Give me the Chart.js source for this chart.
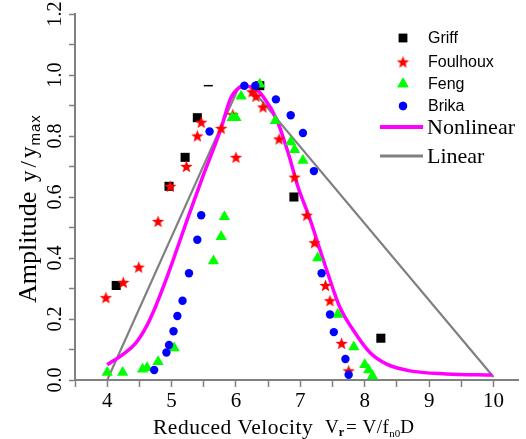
<!DOCTYPE html>
<html>
<head>
<meta charset="utf-8">
<script src="https://cdn.jsdelivr.net/npm/chart.js@4.4.1/dist/chart.umd.min.js"></script>
<style>
  html, body { margin: 0; padding: 0; background: #fff; }
  #wrap { width: 526px; height: 439px; }
</style>
</head>
<body>
<div id="wrap"><canvas id="chart" width="526" height="439"></canvas></div>
<script>
// Experimental points (reduced velocity, normalised amplitude)
const griffX = [4.14, 4.96, 5.21, 5.40, 5.57, 6.37, 6.90, 8.25];
const griffY = [0.31, 0.635, 0.73, 0.86, 0.965, 0.965, 0.60, 0.137];

const foulhouxX = [3.98, 4.25, 4.49, 4.79, 4.98, 5.23, 5.40, 5.46, 5.77, 5.95, 6.00, 6.25, 6.31, 6.42, 6.67, 6.91, 7.10, 7.22, 7.39, 7.46, 7.64, 7.75];
const foulhouxY = [0.27, 0.32, 0.37, 0.52, 0.635, 0.70, 0.80, 0.845, 0.825, 0.87, 0.73, 0.945, 0.93, 0.895, 0.79, 0.665, 0.54, 0.45, 0.31, 0.26, 0.12, 0.03];

const fengX = [4.00, 4.24, 4.55, 4.62, 4.79, 5.04, 5.65, 5.77, 5.82, 5.94, 6.00, 6.08, 6.37, 6.61, 6.85, 6.91, 7.04, 7.27, 7.58, 7.83, 8.00, 8.06, 8.12];
const fengY = [0.025, 0.025, 0.035, 0.04, 0.06, 0.105, 0.39, 0.47, 0.535, 0.86, 0.86, 0.93, 0.97, 0.85, 0.78, 0.755, 0.72, 0.40, 0.215, 0.108, 0.05, 0.033, 0.013];

const brikaX = [4.73, 4.92, 4.96, 5.03, 5.09, 5.17, 5.27, 5.40, 5.46, 5.59, 6.13, 6.30, 6.62, 6.85, 7.04, 7.21, 7.33, 7.46, 7.52, 7.70, 7.75];
const brikaY = [0.033, 0.09, 0.115, 0.16, 0.21, 0.26, 0.35, 0.46, 0.54, 0.815, 0.965, 0.965, 0.92, 0.868, 0.81, 0.685, 0.35, 0.215, 0.157, 0.069, 0.017];

// Model curves
const nonlinearX = [4.00, 4.25, 4.44, 4.62, 4.75, 4.88, 5.01, 5.25, 5.49, 5.76, 5.91, 6.03, 6.17, 6.30, 6.42, 6.63, 6.81, 6.96, 7.15, 7.30, 7.41, 7.61, 7.81, 8.08, 8.34, 8.70, 9.27, 9.98];
const nonlinearY = [0.05, 0.085, 0.12, 0.18, 0.24, 0.31, 0.385, 0.53, 0.67, 0.82, 0.92, 0.955, 0.963, 0.955, 0.93, 0.855, 0.745, 0.635, 0.527, 0.43, 0.36, 0.24, 0.167, 0.09, 0.052, 0.03, 0.02, 0.016];

const linearX = [4.00, 6.05, 6.21, 10.0];
const linearY = [0.0, 0.963, 0.963, 0.01];

// Axis ticks
const xTickLabels = [4, 5, 6, 7, 8, 9, 10];
const yTickLabels = [0.0, 0.2, 0.4, 0.6, 0.8, 1.0, 1.2];

function pairs(xs, ys) {
  return xs.map((x, i) => ({ x: x, y: ys[i] }));
}

function near(list, v) {
  return list.find(t => Math.abs(t - v) < 1e-6);
}

// filled five-point star used as marker
function makeStar(color, r) {
  const c = document.createElement('canvas');
  const s = Math.ceil(r * 2 + 2);
  c.width = s; c.height = s;
  const g = c.getContext('2d');
  const cx = s / 2, cy = s / 2 + 0.5;
  g.beginPath();
  for (let i = 0; i < 10; i++) {
    const rr = i % 2 === 0 ? r : r * 0.42;
    const a = -Math.PI / 2 + i * Math.PI / 5;
    const px = cx + rr * Math.cos(a), py = cy + rr * Math.sin(a);
    if (i === 0) g.moveTo(px, py); else g.lineTo(px, py);
  }
  g.closePath();
  g.fillStyle = color;
  g.fill();
  return c;
}
const starImg = makeStar('#ff0000', 6.5);

const serif = '"Liberation Serif", "Times New Roman", serif';
const sans = '"Liberation Sans", Arial, sans-serif';

// draws a run of text pieces; sub pieces drop below the baseline
function drawRun(ctx, x, y, pieces) {
  pieces.forEach(p => {
    ctx.font = p.font;
    ctx.letterSpacing = p.ls || '0px';
    ctx.fillText(p.t, x, y + (p.dy || 0));
    x += ctx.measureText(p.t).width + (p.gap || 0);
  });
  ctx.letterSpacing = '0px';
}

const extras = {
  id: 'extras',
  afterDraw(chart) {
    const ctx = chart.ctx;
    ctx.save();
    ctx.fillStyle = '#000';
    ctx.textBaseline = 'alphabetic';
    ctx.textAlign = 'left';

    // x axis title
    drawRun(ctx, 153, 434, [{ t: 'Reduced Velocity', font: '21.5px ' + serif, ls: '0.5px' }]);
    drawRun(ctx, 325, 433, [
      { t: 'V', font: '19px ' + serif },
      { t: 'r', font: 'bold 12px ' + serif, dy: 3, gap: 2 },
      { t: '= V/f', font: '19px ' + serif, ls: '0.5px' },
      { t: 'n0', font: '11px ' + serif, dy: 4 },
      { t: 'D', font: '19px ' + serif }
    ]);

    // y axis title, rotated
    ctx.save();
    ctx.translate(36, 303);
    ctx.rotate(-Math.PI / 2);
    drawRun(ctx, 0, 0, [{ t: 'Amplitude', font: '26px ' + serif }]);
    drawRun(ctx, 121, 0, [
      { t: 'y', font: '23px ' + serif, gap: 3 },
      { t: '/', font: '23px ' + serif, gap: 3 },
      { t: 'y', font: '23px ' + serif, gap: 1 },
      { t: 'max', font: '15px ' + sans, dy: 4, ls: '1px' }
    ]);
    ctx.restore();

    // legend
    const items = [
      { label: 'Griff', y: 38, style: 'rect', color: '#000000', r: 6 },
      { label: 'Foulhoux', y: 62, style: starImg },
      { label: 'Feng', y: 84, style: 'triangle', color: '#00ff00', r: 6.5 },
      { label: 'Brika', y: 106, style: 'circle', color: '#0000ff', r: 4.2 }
    ];
    items.forEach(it => {
      if (it.style === starImg) {
        ctx.drawImage(starImg, 403 - starImg.width / 2, it.y - starImg.height / 2);
      } else {
        ctx.fillStyle = it.color;
        ctx.strokeStyle = it.color;
        Chart.helpers.drawPoint(ctx, { pointStyle: it.style, radius: it.r, borderWidth: 0 }, 403, it.y);
        ctx.fill();
      }
      ctx.fillStyle = '#000';
      ctx.font = '16px ' + sans;
      ctx.textBaseline = 'middle';
      ctx.fillText(it.label, 428, it.y + 1);
    });

    const lines = [
      { label: 'Nonlinear', y: 127, color: '#ff00ff', w: 4 },
      { label: 'Linear', y: 156, color: '#808080', w: 3 }
    ];
    lines.forEach(l => {
      ctx.strokeStyle = l.color;
      ctx.lineWidth = l.w;
      ctx.beginPath();
      ctx.moveTo(380, l.y);
      ctx.lineTo(423, l.y);
      ctx.stroke();
      ctx.fillStyle = '#000';
      ctx.font = '22px ' + serif;
      ctx.textBaseline = 'middle';
      ctx.fillText(l.label, 427, l.y + 1);
    });
    ctx.restore();
  }
};

const axisGray = '#808080';

new Chart(document.getElementById('chart'), {
  type: 'scatter',
  data: {
    datasets: [
      {
        label: 'Linear',
        data: pairs(linearX, linearY),
        showLine: true,
        borderColor: axisGray,
        borderWidth: 2.2,
        pointRadius: 0,
        tension: 0,
        order: 10
      },
      {
        label: 'Nonlinear',
        data: pairs(nonlinearX, nonlinearY),
        showLine: true,
        borderColor: '#ff00ff',
        borderWidth: 3.5,
        pointRadius: 0,
        cubicInterpolationMode: 'monotone',
        order: 9
      },
      {
        label: 'Griff',
        data: pairs(griffX, griffY),
        pointStyle: ctx => ctx.dataIndex === 4 ? 'line' : 'rect',
        pointRadius: ctx => ctx.dataIndex === 4 ? 4.5 : 6.4,
        backgroundColor: '#000000',
        borderColor: '#000000',
        borderWidth: ctx => ctx.dataIndex === 4 ? 1.5 : 0,
        order: 4
      },
      {
        label: 'Foulhoux',
        data: pairs(foulhouxX, foulhouxY),
        pointStyle: starImg,
        pointRadius: 7,
        order: 3
      },
      {
        label: 'Feng',
        data: pairs(fengX, fengY),
        pointStyle: 'triangle',
        pointRadius: 6.5,
        backgroundColor: '#00ff00',
        borderColor: '#00ff00',
        borderWidth: 0,
        order: 2
      },
      {
        label: 'Brika',
        data: pairs(brikaX, brikaY),
        pointStyle: 'circle',
        pointRadius: 4.2,
        backgroundColor: '#0000ff',
        borderColor: '#0000ff',
        borderWidth: 0,
        order: 1
      }
    ]
  },
  options: {
    responsive: false,
    animation: false,
    events: [],
    layout: { padding: { top: 14, right: 7, left: 0, bottom: 0 } },
    plugins: {
      legend: { display: false },
      tooltip: { enabled: false }
    },
    scales: {
      x: {
        type: 'linear',
        min: 3.5,
        max: 10.38,
        afterFit: s => { s.height = 59; },
        afterBuildTicks: s => {
          s.ticks = s.ticks.filter(t => Math.abs(t.value * 2 - Math.round(t.value * 2)) < 1e-6);
        },
        border: { color: axisGray, width: 2 },
        grid: { drawOnChartArea: false, drawTicks: true, tickLength: 7, tickWidth: 1.5, tickColor: axisGray },
        ticks: {
          stepSize: 0.5,
          includeBounds: false,
          autoSkip: false,
          maxRotation: 0,
          padding: 2,
          color: '#000',
          font: { family: serif, size: 21 },
          callback: v => {
            const lbl = near(xTickLabels, v);
            return lbl === undefined ? '' : String(lbl);
          }
        }
      },
      y: {
        type: 'linear',
        min: 0,
        max: 1.2,
        afterFit: s => { s.width = 75; },
        border: { color: axisGray, width: 2 },
        grid: { drawOnChartArea: false, drawTicks: true, tickLength: 6, tickWidth: 1.5, tickColor: axisGray },
        ticks: {
          stepSize: 0.1,
          autoSkip: false,
          minRotation: 90,
          maxRotation: 90,
          crossAlign: 'center',
          padding: 1,
          color: '#000',
          font: { family: serif, size: 20 },
          callback: v => {
            const lbl = near(yTickLabels, v);
            return lbl === undefined ? '' : lbl.toFixed(1);
          }
        }
      }
    }
  },
  plugins: [extras]
});
</script>
</body>
</html>
